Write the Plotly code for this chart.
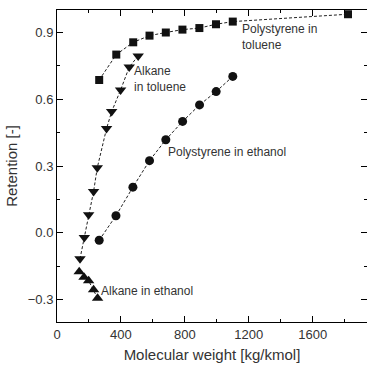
import plotly.graph_objects as go

ps_tol_x = [264, 371, 477, 579, 681, 785, 891, 995, 1100, 1821]
ps_tol_y = [0.686, 0.80, 0.855, 0.885, 0.899, 0.912, 0.919, 0.936, 0.948, 0.981]

alk_tol_x = [508, 452, 398, 342, 310, 252, 229, 198, 171, 144]
alk_tol_y = [0.794, 0.744, 0.641, 0.544, 0.468, 0.292, 0.186, 0.081, -0.021, -0.116]

ps_eth_x = [1100, 996, 892, 786, 681, 579, 475, 369, 264]
ps_eth_y = [0.702, 0.634, 0.574, 0.500, 0.418, 0.324, 0.205, 0.077, -0.033]

alk_eth_x = [139, 169, 198, 229, 254]
alk_eth_y = [-0.174, -0.199, -0.215, -0.255, -0.293]

labels = ["Polystyrene in<br>toluene", "Alkane<br>in toluene", "Polystyrene in ethanol", "Alkane in ethanol"]
label_x = [1144, 470, 681, 262]
label_y = [0.878, 0.689, 0.361, -0.263]

x_range = [0, 1940]
y_range = [-0.4, 1.0]

line_col = "#222222"
fig = go.Figure()
series = [
    (ps_tol_x, ps_tol_y, "square", 8),
    (alk_tol_x, alk_tol_y, "triangle-down", 10),
    (ps_eth_x, ps_eth_y, "circle", 9),
    (alk_eth_x, alk_eth_y, "triangle-up", 10),
]
for xs, ys, sym, sz in series:
    fig.add_trace(go.Scatter(
        x=xs, y=ys, mode="lines+markers",
        line=dict(color=line_col, width=1, dash="3px,2px"),
        marker=dict(symbol=sym, size=sz, color="#111111"),
        showlegend=False, cliponaxis=False,
    ))
# invisible trace to activate the overlay axes carrying the short (minor) ticks
fig.add_trace(go.Scatter(x=[x_range[0]], y=[y_range[0]], xaxis="x2", yaxis="y2",
                         mode="markers", marker=dict(opacity=0), showlegend=False, hoverinfo="skip"))

for t, x, y in zip(labels, label_x, label_y):
    fig.add_annotation(x=x, y=y, text=t, showarrow=False, xanchor="left",
                       yanchor="middle", align="left",
                       font=dict(size=12, color="#333333", family="Liberation Sans, Arial, sans-serif"))

tickfont = dict(size=13, color="#333333")
fig.update_layout(
    width=367, height=366,
    margin=dict(l=57, r=0, t=10, b=44, autoexpand=False),
    plot_bgcolor="white", paper_bgcolor="white",
    font=dict(family="Liberation Sans, Arial, sans-serif", color="#333333"),
    xaxis=dict(range=x_range, tickmode="linear", tick0=0, dtick=400,
               showline=True, linecolor="black", linewidth=1, mirror="ticks",
               ticks="inside", ticklen=6, tickwidth=1.2, tickcolor="black",
               showgrid=False, zeroline=False, tickfont=tickfont, automargin=False,
               title=dict(text="Molecular weight [kg/kmol]", font=dict(size=15, color="#333333"), standoff=8)),
    yaxis=dict(range=y_range, tickmode="linear", tick0=0, dtick=0.3, tickformat=".1f",
               showline=True, linecolor="black", linewidth=1, mirror="ticks",
               ticks="inside", ticklen=6, tickwidth=1.2, tickcolor="black",
               showgrid=False, zeroline=False, tickfont=tickfont, automargin=False,
               title=dict(text="Retention [-]", font=dict(size=15, color="#333333"), standoff=6)),
    xaxis2=dict(range=x_range, overlaying="x", matches="x", anchor="y", side="bottom",
                tickmode="linear", tick0=0, dtick=200, mirror="ticks", showline=False,
                ticks="inside", ticklen=3, tickwidth=1.2, tickcolor="black",
                showticklabels=False, showgrid=False, zeroline=False),
    yaxis2=dict(range=y_range, overlaying="y", matches="y", anchor="x", side="left",
                tickmode="linear", tick0=0, dtick=0.15, mirror="ticks", showline=False,
                ticks="inside", ticklen=3, tickwidth=1.2, tickcolor="black",
                showticklabels=False, showgrid=False, zeroline=False),
)
fig.write_html("out.html", config={"displayModeBar": False},
               post_script="document.body.style.margin='0';document.body.style.padding='0';document.body.style.overflow='hidden';")
